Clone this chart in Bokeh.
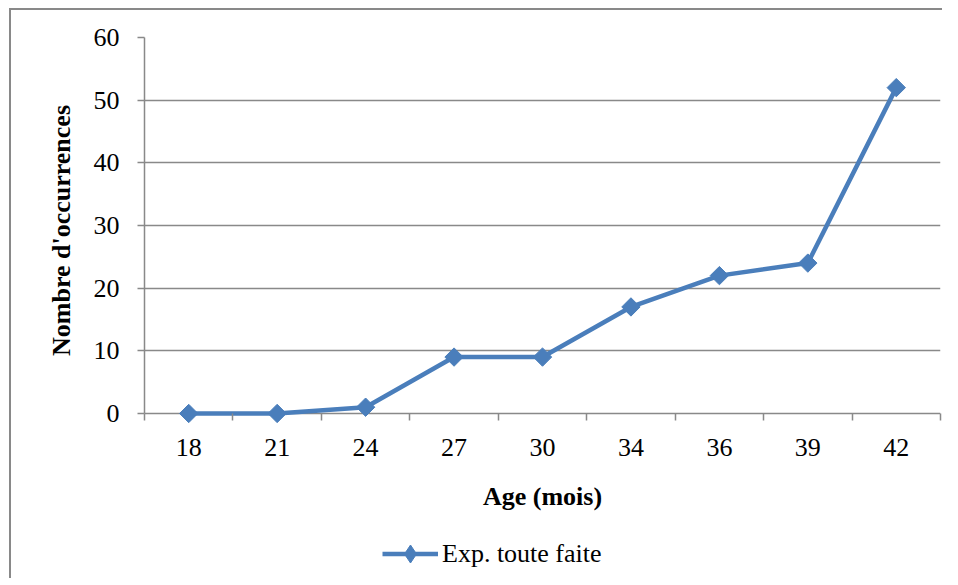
from bokeh.plotting import figure
from bokeh.layouts import column
from bokeh.models import Range1d, FixedTicker, Legend, LegendItem
from bokeh.embed import file_html
from bokeh.resources import INLINE

ages = ["18", "21", "24", "27", "30", "34", "36", "39", "42"]
occurrences = [0, 0, 1, 9, 9, 17, 22, 24, 52]
y_ticks = [0, 10, 20, 30, 40, 50, 60]
series_name = "Exp. toute faite"
x_title = "Age (mois)"
y_title = "Nombre d'occurrences"

FONT = "Liberation Serif"
GRAY = "#898989"
BLUE = "#4a7ebb"

x_pos = [i + 0.5 for i in range(len(ages))]
boundaries = list(range(len(ages) + 1))

p = figure(width=942, height=533, output_backend="svg", toolbar_location=None,
           x_range=Range1d(0, len(ages)), y_range=Range1d(-1.6, 60),
           min_border_left=144, min_border_right=2, min_border_top=37,
           min_border_bottom=110)
p.outline_line_color = None
p.background_fill_color = "white"
p.border_fill_color = None
p.styles = {"box-shadow": "inset 9px 8px 0 0 white, inset 11px 10px 0 0 " + GRAY}

line = p.line(x_pos, occurrences, line_color=BLUE, line_width=4.5)
pts = p.scatter(x_pos, occurrences, marker="square", angle=0.7854, size=13,
                fill_color=BLUE, line_color=BLUE)

# grid (the zero line doubles as the category axis line)
p.xgrid.visible = False
p.ygrid.ticker = FixedTicker(ticks=y_ticks)
p.ygrid.grid_line_color = GRAY
p.ygrid.grid_line_width = 1.5

# y axis
yax = p.yaxis[0]
yax.ticker = FixedTicker(ticks=y_ticks)
yax.bounds = (0, 60)
yax.axis_line_color = GRAY
yax.axis_line_width = 1.5
yax.major_tick_line_color = GRAY
yax.major_tick_line_width = 1.5
yax.major_tick_out = 7
yax.major_tick_in = 0
yax.minor_tick_line_color = None
yax.major_label_standoff = 18
yax.major_label_text_font = FONT
yax.major_label_text_font_size = "26px"
yax.major_label_text_color = "black"
yax.axis_label = y_title
yax.axis_label_text_font = FONT
yax.axis_label_text_font_size = "26px"
yax.axis_label_text_font_style = "bold"
yax.axis_label_text_color = "black"
yax.axis_label_standoff = 15

# x axis
xax = p.xaxis[0]
xax.ticker = FixedTicker(ticks=x_pos, minor_ticks=boundaries)
xax.major_label_overrides = {xp: a for xp, a in zip(x_pos, ages)}
xax.axis_line_color = None
xax.major_tick_line_color = None
xax.major_tick_out = 0
xax.major_tick_in = 0
xax.minor_tick_line_color = GRAY
xax.minor_tick_line_width = 1.5
xax.minor_tick_in = 10
xax.minor_tick_out = -3
xax.major_label_standoff = 15
xax.major_label_text_font = FONT
xax.major_label_text_font_size = "26px"
xax.major_label_text_color = "black"
xax.axis_label = x_title
xax.axis_label_text_font = FONT
xax.axis_label_text_font_size = "26px"
xax.axis_label_text_font_style = "bold"
xax.axis_label_text_color = "black"
xax.axis_label_standoff = 23

# legend strip underneath (series drawn hidden, only its legend entry shows)
q = figure(width=942, height=45, output_backend="svg", toolbar_location=None,
           x_range=Range1d(0, len(ages)), y_range=Range1d(-1.6, 60),
           min_border_left=0, min_border_right=0, min_border_top=0,
           min_border_bottom=0, x_axis_type=None, y_axis_type=None)
q.outline_line_color = None
q.grid.visible = False
q.background_fill_color = "white"
q.border_fill_color = None
q.styles = {"box-shadow": "inset 9px 0 0 0 white, inset 11px 0 0 0 " + GRAY}
leg_line = q.line(x_pos, occurrences, line_color=BLUE, line_width=4.5, visible=False)
leg_pts = q.scatter(x_pos, occurrences, marker="diamond", size=19,
                    fill_color=BLUE, line_color=BLUE, visible=False)
legend = Legend(items=[LegendItem(label=series_name, renderers=[leg_line, leg_pts])],
                location=(238, 2), orientation="horizontal",
                border_line_color=None, background_fill_alpha=0,
                padding=0, margin=0, label_standoff=4,
                glyph_width=56, glyph_height=45,
                label_text_font=FONT, label_text_font_size="26px",
                label_text_color="black")
q.add_layout(legend)

layout = column(p, q, spacing=0)
open("out.html", "w").write(file_html(layout, INLINE))
